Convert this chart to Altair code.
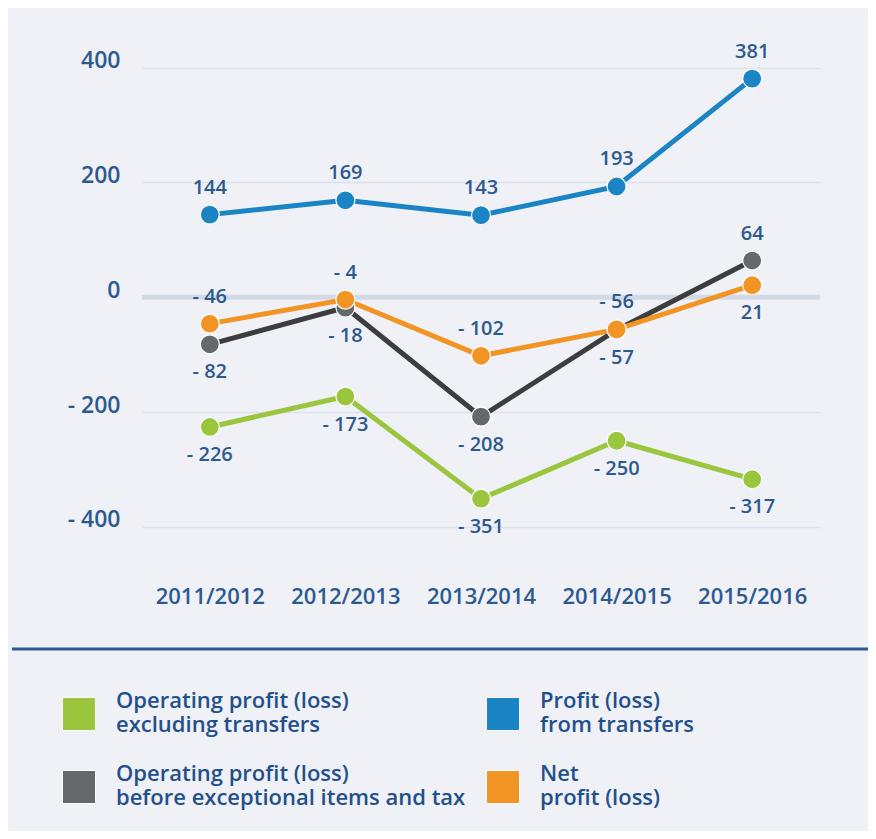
import altair as alt
import pandas as pd

# ---- data ----
years = ["2011/2012", "2012/2013", "2013/2014", "2014/2015", "2015/2016"]
series_names = [
    "Operating profit (loss)|excluding transfers",
    "Operating profit (loss)|before exceptional items and tax",
    "Profit (loss)|from transfers",
    "Net|profit (loss)",
]
op_excl_transfers = [-226, -173, -351, -250, -317]
op_before_items = [-82, -18, -208, -57, 64]
profit_transfers = [144, 169, 143, 193, 381]
net_profit = [-46, -4, -102, -56, 21]
y_ticks = [400, 200, 0, -200, -400]

# label placement (style): above / below the point
label_side = {
    series_names[0]: ["below"] * 5,
    series_names[1]: ["below", "below", "below", "below", "above"],
    series_names[2]: ["above"] * 5,
    series_names[3]: ["above", "above", "above", "above", "below"],
}

point_colors = ["#9bc53d", "#66686b", "#1a84c4", "#f29423"]
line_colors = ["#9bc53d", "#3c3d3f", "#1a84c4", "#f29423"]
TEXT = "#2d5a8e"
BG = "#eff1f7"
FONT = "Open Sans"

rows = []
for name, vals in zip(series_names,
                      [op_excl_transfers, op_before_items, profit_transfers, net_profit]):
    for i, (yr, v) in enumerate(zip(years, vals)):
        rows.append({"year": yr, "series": name, "value": v, "side": label_side[name][i]})
df = pd.DataFrame(rows)

x = alt.X("year:N", sort=years, scale=alt.Scale(type="point", padding=0.5),
          axis=alt.Axis(title=None, labelAngle=0, labelFontSize=22, labelColor=TEXT,
                        labelFont=FONT, labelPadding=19, ticks=False, domain=False,
                        grid=False, labelFontWeight=600))
y = alt.Y("value:Q", scale=alt.Scale(domain=[-470, 450], nice=False, zero=False),
          axis=alt.Axis(title=None, values=y_ticks, labelFontSize=23, labelColor=TEXT,
                        labelFont=FONT, labelPadding=22, ticks=False, domain=False,
                        gridColor="#dce1ec", gridWidth=1.5, labelOffset=-7,
                        labelFontWeight=600,
                        labelExpr="datum.value < 0 ? '- ' + abs(datum.value) : datum.value"))

base = alt.Chart(df)

zero = alt.Chart(pd.DataFrame({"v": [0]})).mark_rule(color="#d3d9e7", strokeWidth=5).encode(
    y=alt.Y("v:Q"))

lines = base.mark_line(strokeWidth=5).encode(
    x=x, y=y,
    color=alt.Color("series:N", scale=alt.Scale(domain=series_names, range=line_colors),
                    legend=None),
    detail="series:N")

points = base.mark_point(filled=True, size=360, opacity=1, stroke="white",
                         strokeWidth=1.2).encode(
    x=x, y=y,
    color=alt.Color("series:N", scale=alt.Scale(domain=series_names, range=point_colors),
                    legend=alt.Legend(title=None, orient="none", legendX=-80, legendY=658,
                                      columns=2, symbolType="square", symbolSize=1089,
                                      symbolStrokeColor="white", symbolStrokeWidth=1,
                                      symbolOpacity=1,
                                      labelFont=FONT, labelFontSize=22, labelFontWeight=600,
                                      labelColor="#23508a",
                                      labelLimit=600, labelOffset=20, rowPadding=27,
                                      columnPadding=18, labelBaseline="line-bottom",
                                      labelExpr="split(datum.label, '|')")),
)

label_tf = base.transform_calculate(
    txt="datum.value < 0 ? '- ' + abs(datum.value) : '' + datum.value")

labels_above = label_tf.transform_filter("datum.side == 'above'").mark_text(
    dy=-27, fontSize=20, font=FONT, color=TEXT, fontWeight=600).encode(
    x=x, y=y, text="txt:N")
labels_below = label_tf.transform_filter("datum.side == 'below'").mark_text(
    dy=28, fontSize=20, font=FONT, color=TEXT, fontWeight=600).encode(
    x=x, y=y, text="txt:N")

divider = alt.Chart(pd.DataFrame({"v": [0]})).mark_rule(color="#2f5b8f", strokeWidth=3).encode(
    x=alt.value(-130), x2=alt.value(726), y=alt.value(610))

chart = alt.layer(zero, lines, points, labels_above, labels_below, divider).resolve_scale(
    color="independent"
).properties(
    width=678, height=528,
    autosize=alt.AutoSizeParams(type="none"),
    padding={"left": 134, "top": 31, "right": 48, "bottom": 264},
    background=BG,
).configure_view(stroke=None)

chart.save("out.html", embed_options={"renderer": "svg", "actions": False})
